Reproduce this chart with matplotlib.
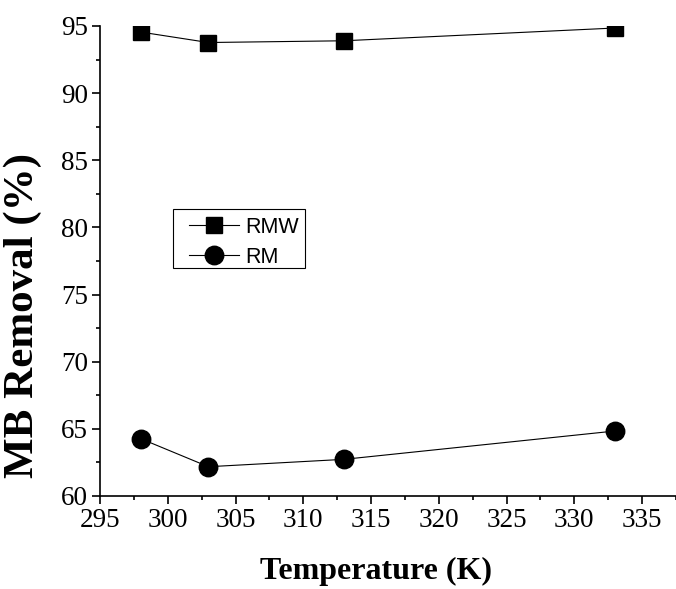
import matplotlib
matplotlib.use("Agg")
import matplotlib.pyplot as plt
from matplotlib.ticker import MultipleLocator
from matplotlib.patches import Rectangle

temperature = [298, 303, 313, 333]
rmw = [94.55, 93.77, 93.9, 94.85]
rm = [64.27, 62.18, 62.73, 64.84]
series_labels = ["RMW", "RM"]
x_label = "Temperature (K)"
y_label = "MB Removal (%)"

fig = plt.figure(figsize=(6.76, 5.89), dpi=100)
ax = fig.add_axes([100/676, 1-496/589, 576/676, 470/589])

ax.plot(temperature, rmw, color="black", lw=0.8, marker="s", ms=11.5,
        mfc="black", mec="black", label=series_labels[0])
ax.plot(temperature, rm, color="black", lw=0.8, marker="o", ms=13.3,
        mfc="black", mec="black", label=series_labels[1])

ax.set_xlim(295, 337.5)
ax.set_ylim(60, 95)
ax.xaxis.set_major_locator(MultipleLocator(5))
ax.xaxis.set_minor_locator(MultipleLocator(2.5))
ax.yaxis.set_major_locator(MultipleLocator(5))
ax.yaxis.set_minor_locator(MultipleLocator(2.5))

for s in ["top", "right"]:
    ax.spines[s].set_visible(False)
for s in ["left", "bottom"]:
    ax.spines[s].set_linewidth(1.2)

ax.tick_params(which="major", direction="out", length=5.5, width=1.2,
               labelsize=19.5, pad=3)
ax.tick_params(which="minor", direction="out", length=3, width=1.2)
for lab in ax.get_xticklabels() + ax.get_yticklabels():
    lab.set_fontfamily("Liberation Serif")

ax.set_xlabel(x_label, fontfamily="Liberation Serif", fontweight="bold", fontsize=23)
ax.set_ylabel(y_label, fontfamily="Liberation Serif", fontweight="bold", fontsize=31)
ax.xaxis.set_label_coords(0.48, -0.13)
ax.yaxis.set_label_coords(-0.10, 0.385)

leg = ax.legend(loc="upper left", bbox_to_anchor=((189-100)/576, (496-217)/470),
                prop={"family": "Liberation Sans", "size": 15.5},
                frameon=False,
                handlelength=2.3, handletextpad=0.3, borderpad=0,
                labelspacing=0.4, borderaxespad=0)
ax.add_patch(Rectangle(((172.7-100)/576, (496-267.7)/470), (305-172.7)/576,
                       (267.7-209)/470, transform=ax.transAxes, fill=False,
                       edgecolor="black", lw=0.8, clip_on=False, zorder=5))

fig.savefig("out.png", dpi=100)
